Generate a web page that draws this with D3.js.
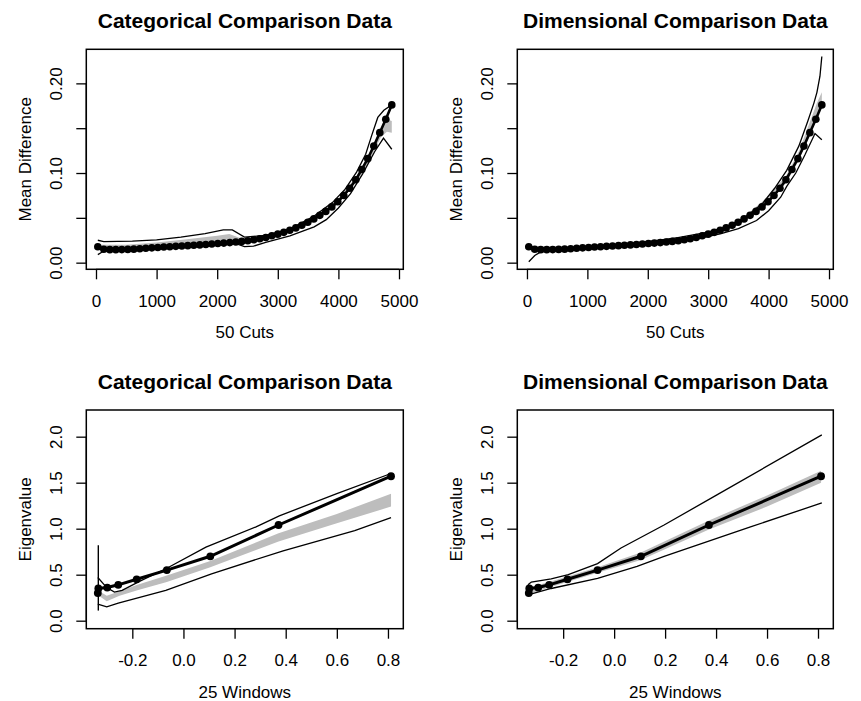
<!DOCTYPE html>
<html>
<head>
<meta charset="utf-8">
<script src="https://cdn.jsdelivr.net/npm/d3@7"></script>
<style>
  html, body { margin: 0; padding: 0; background: #fff; }
  svg { display: block; }
  text { font-family: "Liberation Sans", Arial, Helvetica, sans-serif; fill: #000; }
</style>
</head>
<body>
<svg id="chart" width="861" height="701"></svg>
<script>
// ---------------- DATA ----------------
// 50 cuts (research data, shared by both top panels)
const cutsX = [30,129,228,327,426,525,624,723,822,921,1020,1119,1218,1317,1416,1515,1614,1713,1812,1911,
  2010,2109,2208,2307,2406,2505,2604,2703,2802,2901,3000,3099,3198,3297,3396,3495,3594,3693,3792,3891,
  3990,4089,4188,4287,4386,4485,4584,4683,4782,4881];
const cutsMean = [0.0178,0.0150,0.0145,0.0145,0.0146,0.0148,0.0151,0.0155,0.0160,0.0165,
  0.0170,0.0174,0.0178,0.0182,0.0186,0.0190,0.0194,0.0198,0.0203,0.0208,
  0.0213,0.0218,0.0224,0.0230,0.0237,0.0245,0.0255,0.0267,0.0280,0.0300,
  0.0318,0.0338,0.0362,0.0388,0.0418,0.0450,0.0488,0.0528,0.0572,0.0622,
  0.0680,0.0750,0.0830,0.0925,0.1040,0.1160,0.1300,0.1450,0.1600,0.1760];

// Categorical comparison data (cuts)
const catCutsUpperX = [30,129,600,1000,1400,1800,2100,2250,2450,2800,3200,3600,3900,4100,4300,4450,4550,4650,4750,4881];
const catCutsUpper  = [0.0250,0.0235,0.0240,0.0255,0.0285,0.0325,0.0365,0.0365,0.0285,0.0305,0.0375,0.0520,0.0670,0.0810,0.1010,0.1210,0.1420,0.1620,0.1700,0.1760];
const catCutsLowerX = [30,129,300,1000,2000,2300,2450,2600,2800,3200,3600,3800,4000,4200,4400,4600,4744,4881];
const catCutsLower  = [0.0090,0.0130,0.0140,0.0165,0.0205,0.0215,0.0180,0.0185,0.0225,0.0300,0.0400,0.0480,0.0610,0.0770,0.0990,0.1240,0.1390,0.1265];
const catCutsBandX  = [30,500,1000,1500,2000,2200,2400,2600,3000,3500,4000,4300,4500,4700,4800,4881];
const catCutsBandLo = [0.016,0.016,0.0185,0.021,0.0245,0.026,0.0245,0.0245,0.029,0.042,0.066,0.090,0.112,0.140,0.146,0.145];
const catCutsBandHi = [0.020,0.020,0.0225,0.026,0.030,0.032,0.027,0.027,0.032,0.046,0.072,0.096,0.120,0.150,0.160,0.158];

// Dimensional comparison data (cuts)
const dimCutsUpperX = [30,129,500,1000,1500,2000,2500,3000,3300,3600,3900,4100,4300,4500,4650,4750,4800,4850,4881];
const dimCutsUpper  = [0.0190,0.0165,0.0160,0.0180,0.0205,0.0235,0.0280,0.0340,0.0400,0.0500,0.0660,0.0830,0.1030,0.1300,0.1580,0.1780,0.1900,0.2080,0.2300];
const dimCutsLowerX = [30,129,228,400,1000,2000,2800,3200,3500,3800,4000,4200,4300,4450,4600,4768,4881];
const dimCutsLower  = [0.0010,0.0080,0.0120,0.0135,0.0155,0.0195,0.0265,0.0320,0.0380,0.0470,0.0580,0.0730,0.0850,0.1000,0.1200,0.1440,0.1370];
const dimCutsBandX  = [30,1000,2000,3000,3500,4000,4300,4500,4700,4800,4881];
const dimCutsBandLo = [0.015,0.016,0.020,0.030,0.042,0.066,0.090,0.114,0.146,0.162,0.175];
const dimCutsBandHi = [0.018,0.018,0.022,0.033,0.046,0.074,0.098,0.124,0.160,0.178,0.190];

// 25 windows (research data, shared by both bottom panels)
const winX    = [-0.335,-0.333,-0.298,-0.255,-0.183,-0.065,0.105,0.372,0.812];
const winMean = [0.30,0.35,0.36,0.39,0.45,0.55,0.70,1.04,1.57];

// Categorical comparison data (windows)
const catWinUpperX = [-0.335,-0.300,-0.270,-0.240,-0.170,-0.065,0.088,0.284,0.375,0.600,0.812];
const catWinUpper  = [0.47,0.36,0.31,0.33,0.43,0.57,0.80,1.02,1.14,1.38,1.60];
const catWinLowerX = [-0.335,-0.300,-0.255,-0.069,0.110,0.390,0.670,0.812];
const catWinLower  = [0.18,0.15,0.19,0.33,0.51,0.76,0.98,1.12];
const catWinBandX  = [-0.335,-0.300,-0.250,-0.180,-0.065,0.105,0.372,0.600,0.812];
const catWinBandLo = [0.28,0.21,0.27,0.33,0.42,0.58,0.86,1.06,1.24];
const catWinBandHi = [0.33,0.27,0.32,0.39,0.49,0.65,0.95,1.16,1.38];
const catWinSpikeX = [-0.333];
const catWinSpikeLo = [0.11];
const catWinSpikeHi = [0.82];

// Dimensional comparison data (windows)
const dimWinUpperX = [-0.338,-0.325,-0.247,-0.180,-0.065,0.027,0.196,0.405,0.815];
const dimWinUpper  = [0.39,0.42,0.455,0.50,0.62,0.79,1.04,1.37,2.02];
const dimWinLowerX = [-0.338,-0.247,-0.065,0.090,0.196,0.535,0.815];
const dimWinLower  = [0.28,0.35,0.46,0.59,0.70,1.02,1.28];
const dimWinBandX  = [-0.335,-0.255,-0.065,0.105,0.372,0.600,0.812];
const dimWinBandLo = [0.29,0.36,0.52,0.66,0.99,1.24,1.50];
const dimWinBandHi = [0.36,0.42,0.58,0.74,1.09,1.36,1.63];

// Ticks and labels
const cutsTicks = [0,1000,2000,3000,4000,5000];
const mdTicks = [0,0.05,0.10,0.15,0.20];
const mdLabels = ["0.00","","0.10","","0.20"];
const winTicks = [-0.2,0.0,0.2,0.4,0.6,0.8];
const winLabels = ["-0.2","0.0","0.2","0.4","0.6","0.8"];
const eigTicks = [0,0.5,1.0,1.5,2.0];
const eigLabels = ["0.0","0.5","1.0","1.5","2.0"];

const titles = ["Categorical Comparison Data","Dimensional Comparison Data","Categorical Comparison Data","Dimensional Comparison Data"];
const xTitles = ["50 Cuts","50 Cuts","25 Windows","25 Windows"];
const yTitles = ["Mean Difference","Mean Difference","Eigenvalue","Eigenvalue"];

// ---------------- LAYOUT ----------------
const boxes = [
  {l:86.3, r:403.3, t:49.3, b:269.3},
  {l:517.3, r:833.3, t:49.3, b:269.3},
  {l:86.3, r:403.3, t:410, b:628.7},
  {l:517.3, r:833.3, t:410, b:628.7}
];
const cutsDomainX = [-160, 5071];
const mdDomainY = [-0.0074, 0.238];
const winDomainX = [-0.38, 0.86];
const eigDomainY = [-0.087, 2.29];

const zip = (xs, ys) => xs.map((x, i) => [x, ys[i]]);
const zip3 = (xs, lo, hi) => xs.map((x, i) => [x, lo[i], hi[i]]);

const panels = [
  {mean: zip(cutsX, cutsMean), upper: zip(catCutsUpperX, catCutsUpper), lower: zip(catCutsLowerX, catCutsLower),
   band: zip3(catCutsBandX, catCutsBandLo, catCutsBandHi), spikes: [],
   xd: cutsDomainX, yd: mdDomainY, xt: cutsTicks, xl: cutsTicks.map(String), yt: mdTicks, yl: mdLabels, r: 3.8, lw: 2.6},
  {mean: zip(cutsX, cutsMean), upper: zip(dimCutsUpperX, dimCutsUpper), lower: zip(dimCutsLowerX, dimCutsLower),
   band: zip3(dimCutsBandX, dimCutsBandLo, dimCutsBandHi), spikes: [],
   xd: cutsDomainX, yd: mdDomainY, xt: cutsTicks, xl: cutsTicks.map(String), yt: mdTicks, yl: mdLabels, r: 3.8, lw: 2.6},
  {mean: zip(winX, winMean), upper: zip(catWinUpperX, catWinUpper), lower: zip(catWinLowerX, catWinLower),
   band: zip3(catWinBandX, catWinBandLo, catWinBandHi), spikes: zip3(catWinSpikeX, catWinSpikeLo, catWinSpikeHi),
   xd: winDomainX, yd: eigDomainY, xt: winTicks, xl: winLabels, yt: eigTicks, yl: eigLabels, r: 3.9, lw: 3},
  {mean: zip(winX, winMean), upper: zip(dimWinUpperX, dimWinUpper), lower: zip(dimWinLowerX, dimWinLower),
   band: zip3(dimWinBandX, dimWinBandLo, dimWinBandHi), spikes: [],
   xd: winDomainX, yd: eigDomainY, xt: winTicks, xl: winLabels, yt: eigTicks, yl: eigLabels, r: 3.9, lw: 3}
];

const svg = d3.select("#chart");
svg.append("rect").attr("width", 861).attr("height", 701).attr("fill", "#fff");

panels.forEach((p, i) => {
  const b = boxes[i];
  const x = d3.scaleLinear().domain(p.xd).range([b.l, b.r]);
  const y = d3.scaleLinear().domain(p.yd).range([b.b, b.t]);
  const g = svg.append("g");

  // grey band
  g.append("path")
    .datum(p.band)
    .attr("fill", "#bdbdbd")
    .attr("stroke", "none")
    .attr("d", d3.area().x(d => x(d[0])).y0(d => y(d[1])).y1(d => y(d[2])));

  // envelope lines
  const line = d3.line().x(d => x(d[0])).y(d => y(d[1]));
  [p.upper, p.lower].forEach(arr => {
    g.append("path").datum(arr)
      .attr("fill", "none").attr("stroke", "#000").attr("stroke-width", 1.3)
      .attr("d", line);
  });
  p.spikes.forEach(s => {
    g.append("line")
      .attr("x1", x(s[0])).attr("x2", x(s[0]))
      .attr("y1", y(s[1])).attr("y2", y(s[2]))
      .attr("stroke", "#000").attr("stroke-width", 1.4);
  });

  // research data line + points
  g.append("path").datum(p.mean)
    .attr("fill", "none").attr("stroke", "#000").attr("stroke-width", p.lw)
    .attr("d", line);
  g.selectAll("circle.pt").data(p.mean).enter().append("circle")
    .attr("class", "pt")
    .attr("cx", d => x(d[0])).attr("cy", d => y(d[1])).attr("r", p.r)
    .attr("fill", "#000");

  // box
  g.append("rect")
    .attr("x", b.l).attr("y", b.t).attr("width", b.r - b.l).attr("height", b.b - b.t)
    .attr("fill", "none").attr("stroke", "#000").attr("stroke-width", 1.5);

  // x axis
  const xa = g.append("g").attr("transform", `translate(0,${b.b})`)
    .call(d3.axisBottom(x).tickValues(p.xt).tickFormat((d, k) => p.xl[k]).tickSize(10).tickSizeOuter(0));
  xa.select(".domain").attr("stroke", "#000").attr("stroke-width", 1.3)
    .attr("d", `M${x(p.xt[0])},0H${x(p.xt[p.xt.length - 1])}`);
  xa.selectAll(".tick line").attr("stroke", "#000").attr("stroke-width", 1.3);
  xa.selectAll(".tick text").attr("y", 37.5).attr("dy", null)
    .attr("font-size", 17).attr("font-family", '"Liberation Sans", Arial, sans-serif').attr("fill", "#000");

  // y axis
  const ya = g.append("g").attr("transform", `translate(${b.l},0)`)
    .call(d3.axisLeft(y).tickValues(p.yt).tickFormat((d, k) => p.yl[k]).tickSize(10).tickSizeOuter(0));
  ya.select(".domain").attr("stroke", "#000").attr("stroke-width", 1.3)
    .attr("d", `M0,${y(p.yt[0])}V${y(p.yt[p.yt.length - 1])}`);
  ya.selectAll(".tick line").attr("stroke", "#000").attr("stroke-width", 1.3);
  ya.selectAll(".tick text")
    .attr("x", null).attr("dy", null)
    .attr("text-anchor", "middle")
    .attr("transform", "translate(-24.6,0) rotate(-90)")
    .attr("font-size", 17).attr("font-family", '"Liberation Sans", Arial, sans-serif').attr("fill", "#000");

  // titles
  const cx = (b.l + b.r) / 2;
  g.append("text").attr("x", cx).attr("y", b.t - 21.5)
    .attr("text-anchor", "middle").attr("font-weight", "bold").attr("font-size", 21)
    .text(titles[i]);
  g.append("text").attr("x", cx).attr("y", b.b + 69)
    .attr("text-anchor", "middle").attr("font-size", 17)
    .text(xTitles[i]);
  const cy = (b.t + b.b) / 2;
  g.append("text")
    .attr("transform", `translate(${b.l - 55},${cy}) rotate(-90)`)
    .attr("text-anchor", "middle").attr("font-size", 17)
    .text(yTitles[i]);
});
</script>
</body>
</html>
